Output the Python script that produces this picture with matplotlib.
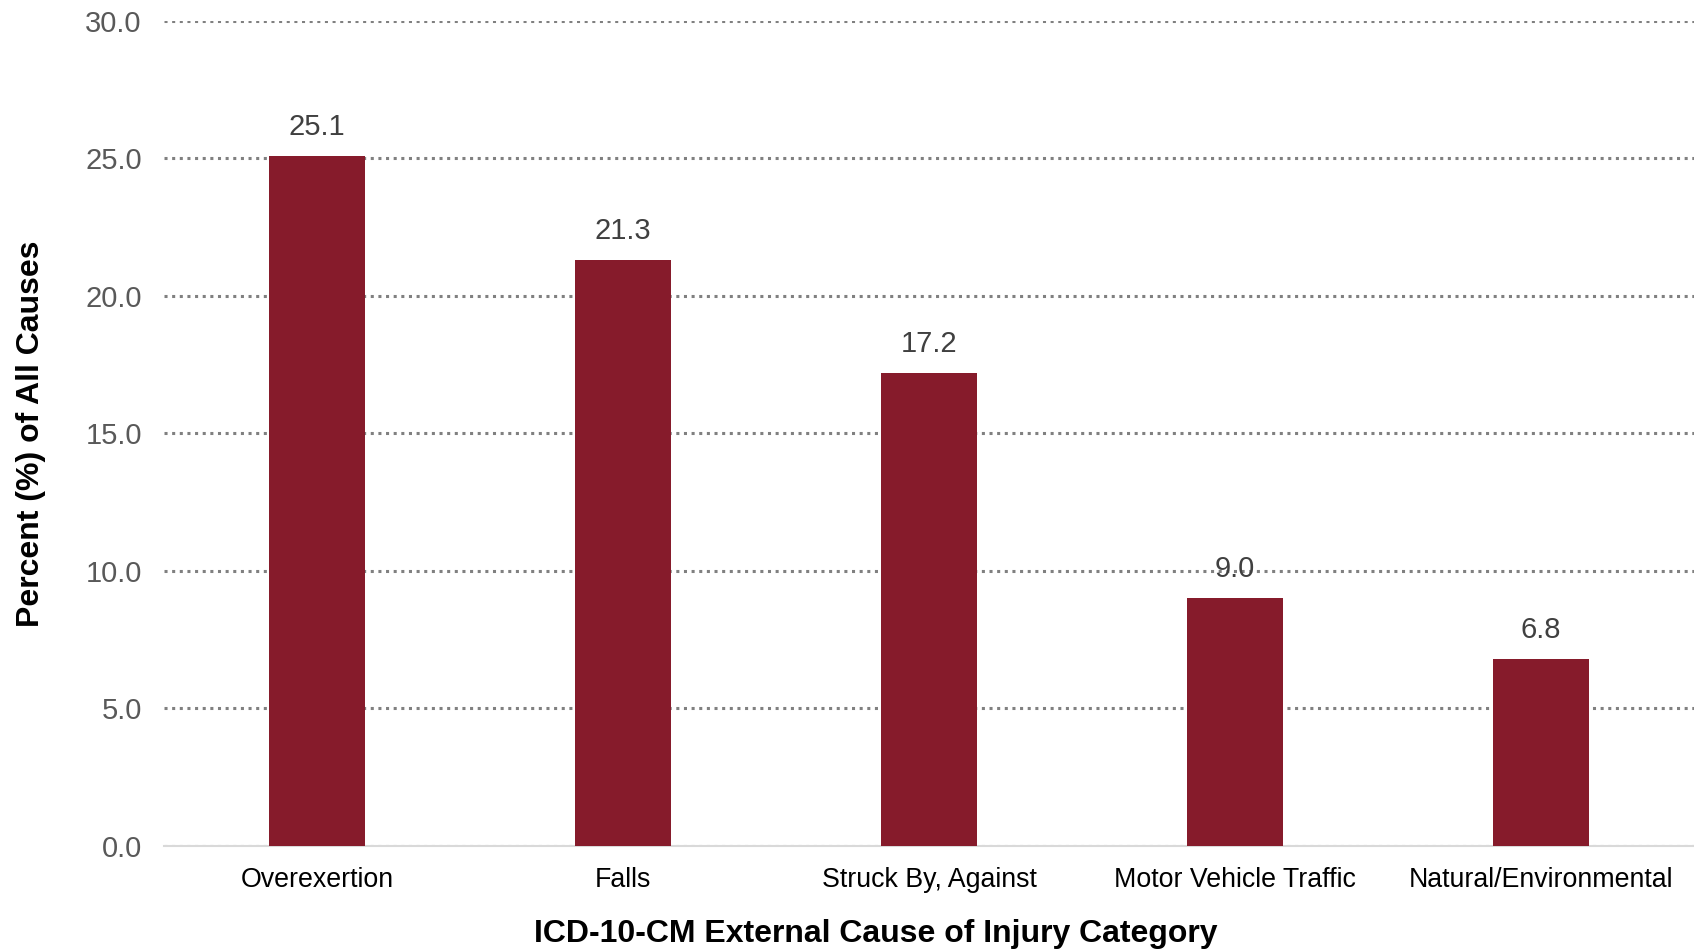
import matplotlib
matplotlib.use("Agg")
import matplotlib.pyplot as plt

plt.rcParams['font.family'] = ['Liberation Sans', 'DejaVu Sans']

# data
categories = ['Overexertion', 'Falls', 'Struck By, Against',
              'Motor Vehicle Traffic', 'Natural/Environmental']
values = [25.1, 21.3, 17.2, 9.0, 6.8]
yticks = [0, 5, 10, 15, 20, 25, 30]

fig = plt.figure(figsize=(16.94, 9.5), dpi=100)
ax = fig.add_axes([0.0968, 0.1095, 0.9032, 0.8685])

x = range(len(categories))
bars = ax.bar(x, values, width=0.315, color='#861B2B', zorder=3)

for b, v in zip(bars, values):
    ax.text(b.get_x() + b.get_width() / 2, v + 0.55, f'{v:.1f}',
            ha='center', va='bottom', fontsize=21, color='#404040')

ax.set_xlim(-0.5, len(categories) - 0.5)
ax.set_ylim(0, 30)
ax.set_yticks(yticks)
ax.set_yticklabels([f'{t:.1f}' for t in yticks])
ax.set_xticks(list(x))
ax.set_xticklabels(categories)

ax.yaxis.grid(True, linestyle=(0, (1, 1.5)), color='#808080', linewidth=2.2, zorder=0)
ax.tick_params(axis='y', length=0, labelsize=21, labelcolor='#595959', pad=16)
ax.tick_params(axis='x', length=0, labelsize=19.3, labelcolor='#000000', pad=15)

for s in ['top', 'right', 'left']:
    ax.spines[s].set_visible(False)
ax.spines['bottom'].set_color('#D9D9D9')
ax.spines['bottom'].set_linewidth(1.5)

ax.set_xlabel('ICD-10-CM External Cause of Injury Category', fontsize=23,
              fontweight='bold')
# the title sits a bit left of the axes centre in the original
ax.xaxis.set_label_coords(0.465, -0.089)
ax.set_ylabel('Percent (%) of All Causes', fontsize=23, fontweight='bold', labelpad=28)

fig.savefig('out.png', dpi=100)
